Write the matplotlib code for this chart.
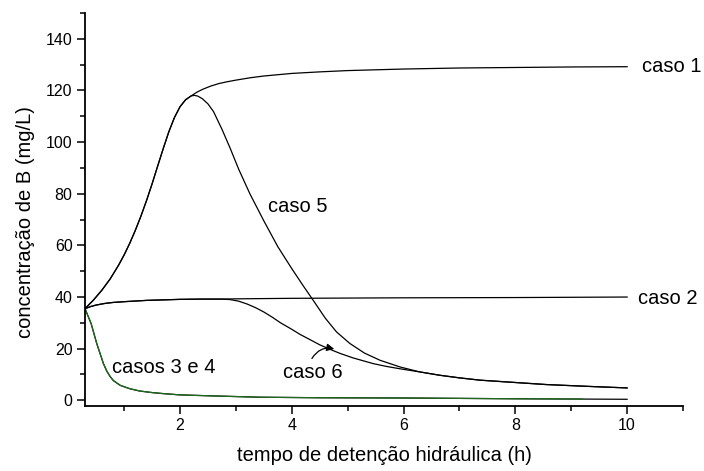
import matplotlib
matplotlib.use("Agg")
import matplotlib.pyplot as plt
from matplotlib.ticker import MultipleLocator

plt.rcParams['font.family'] = ['Liberation Sans', 'DejaVu Sans']

# rising branch shared by caso 1 and caso 5
rise_x = [0.30, 0.45, 0.60, 0.75, 0.90, 1.00, 1.10, 1.20, 1.30, 1.40, 1.50, 1.60,
          1.70, 1.80, 1.90, 2.00, 2.10, 2.20]
rise_y = [35.5, 38.8, 42.6, 47.0, 52.3, 56.3, 60.8, 65.8, 71.3, 77.3, 83.8, 90.7,
          97.5, 104.0, 109.5, 113.7, 116.4, 117.9]

# caso 1 after the shared branch
caso1_tail_x = [2.30, 2.40, 2.55, 2.70, 2.85, 3.00, 3.25, 3.50, 4.00, 4.50, 5.00,
                6.00, 7.00, 8.00, 9.00, 10.0]
caso1_tail_y = [119.3, 120.4, 121.7, 122.7, 123.4, 124.0, 124.9, 125.6, 126.6, 127.2,
                127.7, 128.3, 128.7, 128.9, 129.1, 129.2]

# caso 5 after the shared branch
caso5_tail_x = [2.26, 2.32, 2.40, 2.50, 2.60, 2.75, 2.90, 3.05, 3.25, 3.50, 3.75,
                4.00, 4.20, 4.40, 4.60, 4.80, 5.04, 5.30, 5.58, 5.94, 6.29, 6.65,
                7.00, 7.37, 8.00, 8.56, 9.30, 10.0]
caso5_tail_y = [118.1, 117.8, 116.8, 114.8, 111.8, 105.0, 97.5, 89.5, 80.0, 69.5, 59.5,
                51.0, 44.5, 38.2, 31.8, 26.5, 22.0, 18.3, 15.5, 12.9, 11.0, 9.7,
                8.7, 7.8, 6.9, 6.1, 5.4, 4.8]

# caso 2
caso2_x = [0.30, 0.40, 0.50, 0.65, 0.80, 1.00, 1.40, 2.00, 2.40, 2.77, 3.00, 4.00,
           6.00, 8.00, 10.0]
caso2_y = [35.5, 36.3, 36.9, 37.5, 37.9, 38.2, 38.7, 39.1, 39.2, 39.2, 39.3, 39.5,
           39.7, 39.8, 40.0]

# caso 6 after leaving caso 2 (joins caso 5 near 6.3 h)
caso6_tail_x = [2.90, 3.05, 3.20, 3.35, 3.50, 3.65, 3.80, 4.00, 4.15, 4.30, 4.50,
                4.70, 4.86, 5.10, 5.46, 5.70, 5.94, 6.29, 6.65, 7.00, 7.37, 8.00,
                8.56, 9.30, 10.0]
caso6_tail_y = [39.0, 38.4, 37.3, 35.9, 34.2, 32.2, 30.0, 27.5, 25.5, 23.8, 21.5,
                19.6, 18.2, 16.4, 14.2, 13.1, 12.2, 11.0, 9.7, 8.7, 7.8, 6.9,
                6.1, 5.4, 4.8]

# casos 3 e 4
caso4_x = [0.30, 0.41, 0.51, 0.57, 0.63, 0.69, 0.75, 0.81, 0.93, 1.10, 1.28, 1.50,
           1.70, 2.00, 2.60, 3.43, 4.50, 6.00, 8.00, 10.0]
caso4_y = [35.5, 29.7, 22.0, 18.1, 14.2, 11.3, 9.2, 7.6, 5.8, 4.5, 3.6, 3.0,
           2.6, 2.1, 1.7, 1.2, 1.0, 0.9, 0.6, 0.4]
caso3_x = [0.30, 0.41, 0.51, 0.57, 0.63, 0.69, 0.75, 0.81, 0.93, 1.10, 1.28, 1.50,
           1.70, 2.00, 2.60, 3.43, 4.50, 6.00, 8.00, 9.20]
caso3_y = [35.5, 29.7, 22.0, 18.1, 14.2, 11.3, 9.2, 7.6, 5.8, 4.5, 3.6, 3.0,
           2.6, 2.1, 1.7, 1.2, 1.0, 0.9, 0.6, 0.5]

caso1_x, caso1_y = rise_x + caso1_tail_x, rise_y + caso1_tail_y
caso5_x, caso5_y = rise_x + caso5_tail_x, rise_y + caso5_tail_y
split = caso2_x.index(2.77) + 1
caso6_x = caso2_x[:split] + caso6_tail_x
caso6_y = caso2_y[:split] + caso6_tail_y

fig = plt.figure(figsize=(7.04, 4.71), dpi=100)
ax = fig.add_axes([85 / 704, 1 - 406 / 471, 598 / 704, 393 / 471])

lw = 0.9
line_kw = dict(color='black', lw=lw, solid_joinstyle='round')
ax.plot(caso1_x, caso1_y, **line_kw)
ax.plot(caso5_x, caso5_y, **line_kw)
ax.plot(caso2_x, caso2_y, **line_kw)
ax.plot(caso6_x, caso6_y, **line_kw)
ax.plot(caso4_x, caso4_y, **line_kw)
ax.plot(caso3_x, caso3_y, color='#1e6b1e', lw=lw, solid_joinstyle='round')

ax.set_xlim(0.3, 11)
ax.set_ylim(-2.2, 150)

for side in ('top', 'right'):
    ax.spines[side].set_visible(False)
for side in ('left', 'bottom'):
    ax.spines[side].set_linewidth(1.3)

ax.xaxis.set_major_locator(MultipleLocator(2))
ax.xaxis.set_minor_locator(MultipleLocator(1))
ax.yaxis.set_major_locator(MultipleLocator(20))
ax.yaxis.set_minor_locator(MultipleLocator(10))
ax.set_xticks([2, 4, 6, 8, 10])
ax.tick_params(which='major', direction='out', length=6, width=1.1, labelsize=11.5, pad=3)
ax.tick_params(which='minor', direction='out', length=3.5, width=1.1)

ax.set_xlabel('tempo de detenção hidráulica (h)', fontsize=14.5, labelpad=9)
fig.text(25.5 / 704, 1 - 222 / 471, 'concentração de B (mg/L)', rotation=90,
         ha='center', va='center', fontsize=14.5)

fs = 14.5
ax.text(10.26, 129.2, 'caso 1', fontsize=fs, ha='left', va='center')
ax.text(10.20, 39.4, 'caso 2', fontsize=fs, ha='left', va='center')
ax.text(3.58, 74.9, 'caso 5', fontsize=fs, ha='left', va='center')
ax.text(3.84, 10.6, 'caso 6', fontsize=fs, ha='left', va='center')
ax.text(0.78, 12.7, 'casos 3 e 4', fontsize=fs, ha='left', va='center')

ax.annotate('', xy=(4.76, 19.9), xytext=(4.36, 16.2),
            arrowprops=dict(arrowstyle='-|>', connectionstyle='arc3,rad=-0.35',
                            color='black', lw=0.9, mutation_scale=11,
                            shrinkA=0, shrinkB=0))

fig.savefig('out.png', dpi=100)
